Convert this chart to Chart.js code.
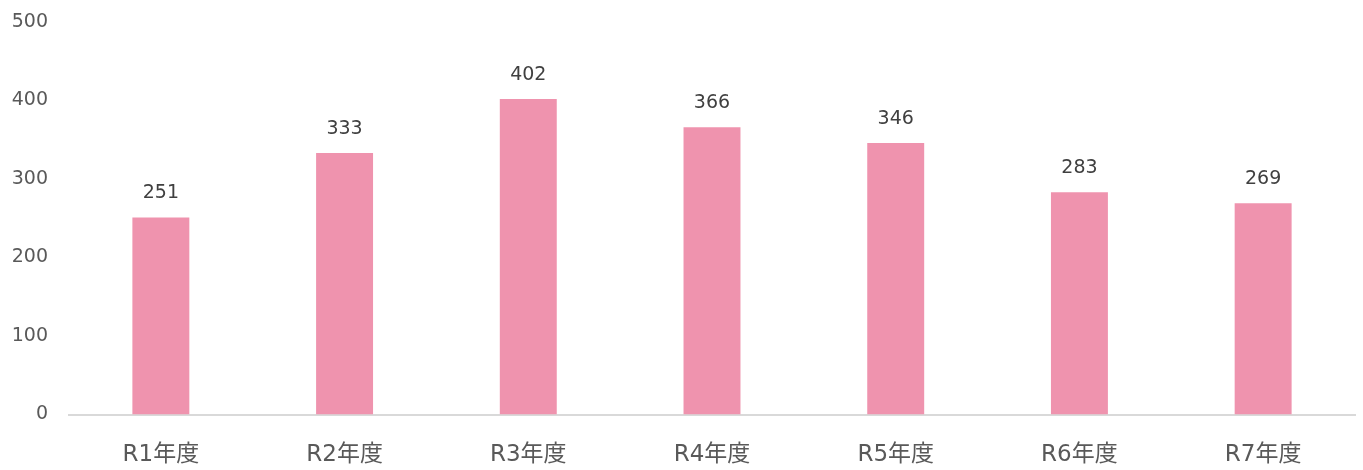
<!DOCTYPE html>
<html>
<head>
<meta charset="utf-8">
<script src="https://cdn.jsdelivr.net/npm/chart.js@4"></script>
<style>
  html, body { margin: 0; padding: 0; background: #fff; }
  #wrap { width: 1363px; height: 470px; position: relative; }
</style>
</head>
<body>
<div id="wrap"><canvas id="chart"></canvas></div>
<script>
  const labels = ["R1年度", "R2年度", "R3年度", "R4年度", "R5年度", "R6年度", "R7年度"];
  const values = [251, 333, 402, 366, 346, 283, 269];
  const yTicks = [0, 100, 200, 300, 400, 500];

  const FONT = "'DejaVu Sans', 'Noto Sans CJK JP', sans-serif";

  // draws the value above each bar
  const valueLabels = {
    id: "valueLabels",
    afterDatasetsDraw(chart) {
      const { ctx } = chart;
      const meta = chart.getDatasetMeta(0);
      ctx.save();
      ctx.font = "19px " + FONT;
      ctx.fillStyle = "#404040";
      ctx.textAlign = "center";
      ctx.textBaseline = "middle";
      meta.data.forEach((bar, i) => {
        ctx.fillText(String(values[i]), bar.x, bar.y - 24);
      });
      ctx.restore();
    },
  };

  new Chart(document.getElementById("chart"), {
    type: "bar",
    data: {
      labels,
      datasets: [
        {
          data: values,
          backgroundColor: "#EF93AE",
          categoryPercentage: 1,
          barPercentage: 0.31,
        },
      ],
    },
    options: {
      responsive: true,
      maintainAspectRatio: false,
      animation: false,
      layout: { padding: { top: 22, right: 8, left: 0, bottom: 0 } },
      plugins: { legend: { display: false }, tooltip: { enabled: false } },
      scales: {
        x: {
          grid: { display: false, drawTicks: false },
          border: { color: "#D9D9D9", width: 2 },
          ticks: {
            color: "#595959",
            font: { family: FONT, size: 23 },
            padding: 27,
            maxRotation: 0,
          },
          afterFit: (s) => { s.height = 55.5; },
        },
        y: {
          min: 0,
          max: 500,
          afterBuildTicks: (s) => { s.ticks = yTicks.map((v) => ({ value: v })); },
          grid: { display: false, drawTicks: false },
          border: { display: false },
          ticks: {
            color: "#595959",
            // tiny line height so the top label does not push the plot down
            font: { family: FONT, size: 19, lineHeight: 0.05 },
            padding: 21,
          },
          afterFit: (s) => { s.width = 69; },
        },
      },
    },
    plugins: [valueLabels],
  });
</script>
</body>
</html>
